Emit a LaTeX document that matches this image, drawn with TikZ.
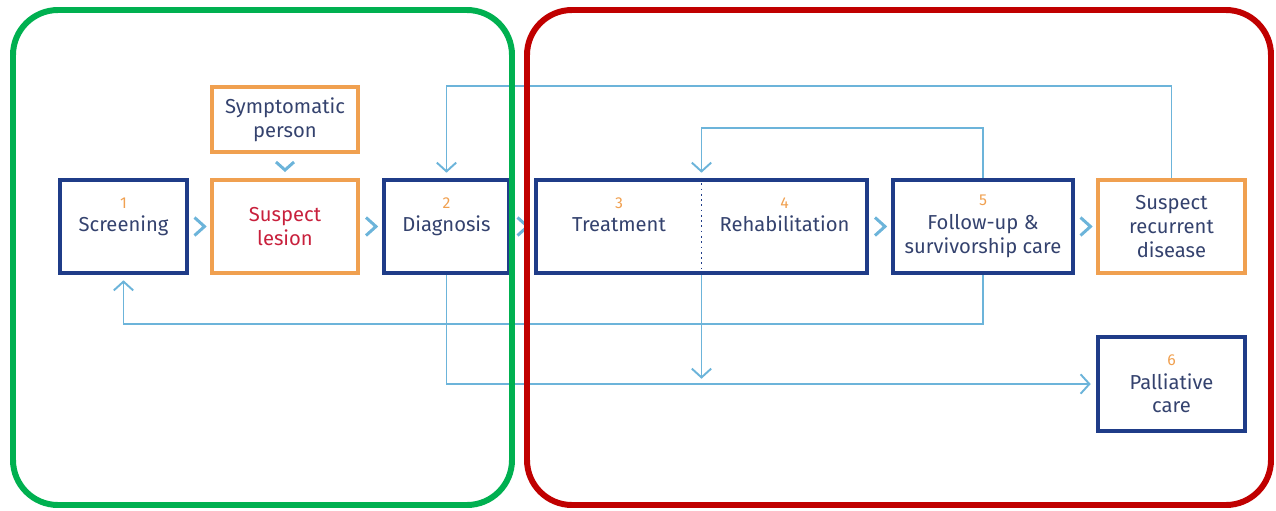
\documentclass[tikz,border=0pt]{standalone}
\usepackage{fontspec}
\setmainfont{Fira Sans}
\usetikzlibrary{arrows.meta,calc}

\definecolor{navy}{HTML}{1F3C88}
\definecolor{ink}{HTML}{34426E}
\definecolor{amber}{HTML}{F0A050}
\definecolor{crimson}{HTML}{C8203C}
\definecolor{sky}{HTML}{6CB4DA}
\definecolor{frgreen}{HTML}{00B050}
\definecolor{frred}{HTML}{C00000}

\tikzset{
	caption/.style={align=center, text=ink, font=\fontsize{11.5}{13.5}\selectfont},
	stage/.style={caption, draw=navy, line width=2.3pt, minimum height=1.86cm},
	alert/.style={stage, draw=amber},
	flow/.style={draw=sky, line width=1.1pt, -{Straight Barb[length=5pt,width=11pt]}, shorten >=3pt},
	chev/.style={draw=sky, line width=1.7pt},
	frame/.style={line width=3.4pt, rounded corners=0.9cm}
}
\newcommand{\num}[1]{{\color{amber}\fontsize{9}{10}\selectfont #1}}

\begin{document}
\begin{tikzpicture}[x=0.02cm,y=-0.02cm]
	\useasboundingbox (0,0) rectangle (1276,511);
	% stages
	\node[stage, minimum width=2.54cm] (scr) at (123.5,226.5) {\num{1}\\Screening\\~};
	\node[alert, minimum width=2.92cm, minimum height=1.30cm] (sym) at (285,119.5) {Symptomatic\\person};
	\node[alert, minimum width=2.92cm, text=crimson] (les) at (285,226.5) {Suspect\\lesion};
	\node[stage, minimum width=2.50cm] (dia) at (446.5,226.5) {\num{2}\\Diagnosis\\~};
	\node[stage, minimum width=6.62cm] (care) at (701.5,226.5) {};
	\node[caption] (trt) at (619,226.5) {\num{3}\\Treatment\\~};
	\node[caption] (reh) at (784.5,226.5) {\num{4}\\Rehabilitation\\~};
	\node[stage, minimum width=3.60cm] (fol) at (983,226.5) {\num{5}\\Follow-up \&\\survivorship care};
	\node[alert, minimum width=2.94cm] (rec) at (1171.5,226.5) {Suspect\\recurrent\\disease};
	\node[stage, minimum width=2.94cm, minimum height=1.88cm] (pal) at (1171.5,384) {\num{6}\\Palliative\\care};
	\draw[navy, dotted, line width=1pt] (care.north) -- (care.south);

	% chevrons
	\draw[chev] ($(scr.east)!.5!(les.west)$) ++(-5,-9) -- ++(10,9) -- ++(-10,9);
	\draw[chev] ($(les.east)!.5!(dia.west)$) ++(-5,-9) -- ++(10,9) -- ++(-10,9);
	\draw[chev] ($(dia.east)!.5!(care.west)$) ++(-5,-9) -- ++(10,9) -- ++(-10,9);
	\draw[chev] ($(care.east)!.5!(fol.west)$) ++(-5,-9) -- ++(10,9) -- ++(-10,9);
	\draw[chev] ($(fol.east)!.5!(rec.west)$) ++(-5,-9) -- ++(10,9) -- ++(-10,9);
	\draw[chev] ($(sym.south)!.5!(les.north)$) ++(-9,-4) -- ++(9,8) -- ++(9,-8);

	% loops
	\draw[flow] (rec.north) -- ++(0,-92) -| (dia.north);
	\draw[flow] (fol.north) -- ++(0,-50) -| (care.north);
	\draw[flow] (fol.south) -- ++(0,49) -| (scr.south);
	\draw[flow] (dia.south) |- (pal.west);
	\draw[flow] (care.south) -- (care.south |- pal.west);

	% frames
	\draw[frame, frgreen] (13,10) rectangle (512,505);
	\draw[frame, frred] (527,10) rectangle (1271,505);
\end{tikzpicture}
\end{document}
